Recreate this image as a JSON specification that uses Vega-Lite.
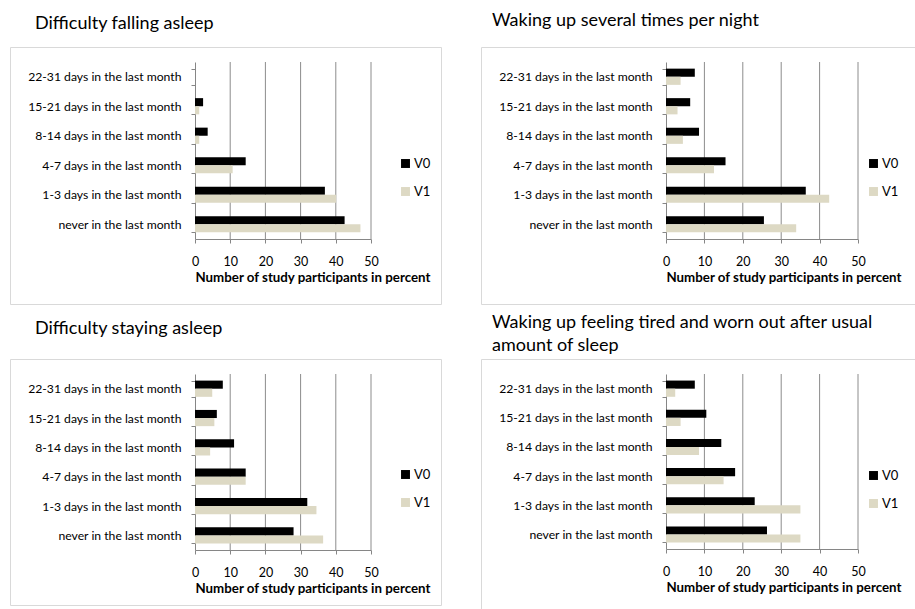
{
  "$schema": "https://vega.github.io/schema/vega-lite/v6.json",
  "background": "white",
  "padding": {"left": 9, "top": 11, "right": 0, "bottom": 0},
  "datasets": {
    "sleep": [
      {"panel": "falling", "category": "22-31 days in the last month", "series": "V0", "value": 0},
      {"panel": "falling", "category": "22-31 days in the last month", "series": "V1", "value": 0},
      {"panel": "falling", "category": "15-21 days in the last month", "series": "V0", "value": 2.3},
      {"panel": "falling", "category": "15-21 days in the last month", "series": "V1", "value": 1.2},
      {"panel": "falling", "category": "8-14 days in the last month", "series": "V0", "value": 3.6},
      {"panel": "falling", "category": "8-14 days in the last month", "series": "V1", "value": 1.2},
      {"panel": "falling", "category": "4-7 days in the last month", "series": "V0", "value": 14.4},
      {"panel": "falling", "category": "4-7 days in the last month", "series": "V1", "value": 10.7},
      {"panel": "falling", "category": "1-3 days in the last month", "series": "V0", "value": 36.9},
      {"panel": "falling", "category": "1-3 days in the last month", "series": "V1", "value": 40.1},
      {"panel": "falling", "category": "never in the last month", "series": "V0", "value": 42.5},
      {"panel": "falling", "category": "never in the last month", "series": "V1", "value": 47.0},

      {"panel": "waking", "category": "22-31 days in the last month", "series": "V0", "value": 7.5},
      {"panel": "waking", "category": "22-31 days in the last month", "series": "V1", "value": 3.8},
      {"panel": "waking", "category": "15-21 days in the last month", "series": "V0", "value": 6.3},
      {"panel": "waking", "category": "15-21 days in the last month", "series": "V1", "value": 3.0},
      {"panel": "waking", "category": "8-14 days in the last month", "series": "V0", "value": 8.6},
      {"panel": "waking", "category": "8-14 days in the last month", "series": "V1", "value": 4.4},
      {"panel": "waking", "category": "4-7 days in the last month", "series": "V0", "value": 15.5},
      {"panel": "waking", "category": "4-7 days in the last month", "series": "V1", "value": 12.5},
      {"panel": "waking", "category": "1-3 days in the last month", "series": "V0", "value": 36.4},
      {"panel": "waking", "category": "1-3 days in the last month", "series": "V1", "value": 42.5},
      {"panel": "waking", "category": "never in the last month", "series": "V0", "value": 25.5},
      {"panel": "waking", "category": "never in the last month", "series": "V1", "value": 33.9},

      {"panel": "staying", "category": "22-31 days in the last month", "series": "V0", "value": 7.9},
      {"panel": "staying", "category": "22-31 days in the last month", "series": "V1", "value": 4.9},
      {"panel": "staying", "category": "15-21 days in the last month", "series": "V0", "value": 6.2},
      {"panel": "staying", "category": "15-21 days in the last month", "series": "V1", "value": 5.5},
      {"panel": "staying", "category": "8-14 days in the last month", "series": "V0", "value": 11.1},
      {"panel": "staying", "category": "8-14 days in the last month", "series": "V1", "value": 4.3},
      {"panel": "staying", "category": "4-7 days in the last month", "series": "V0", "value": 14.4},
      {"panel": "staying", "category": "4-7 days in the last month", "series": "V1", "value": 14.4},
      {"panel": "staying", "category": "1-3 days in the last month", "series": "V0", "value": 31.9},
      {"panel": "staying", "category": "1-3 days in the last month", "series": "V1", "value": 34.5},
      {"panel": "staying", "category": "never in the last month", "series": "V0", "value": 28.0},
      {"panel": "staying", "category": "never in the last month", "series": "V1", "value": 36.4},

      {"panel": "tired", "category": "22-31 days in the last month", "series": "V0", "value": 7.5},
      {"panel": "tired", "category": "22-31 days in the last month", "series": "V1", "value": 2.4},
      {"panel": "tired", "category": "15-21 days in the last month", "series": "V0", "value": 10.5},
      {"panel": "tired", "category": "15-21 days in the last month", "series": "V1", "value": 3.8},
      {"panel": "tired", "category": "8-14 days in the last month", "series": "V0", "value": 14.4},
      {"panel": "tired", "category": "8-14 days in the last month", "series": "V1", "value": 8.6},
      {"panel": "tired", "category": "4-7 days in the last month", "series": "V0", "value": 18.0},
      {"panel": "tired", "category": "4-7 days in the last month", "series": "V1", "value": 15.0},
      {"panel": "tired", "category": "1-3 days in the last month", "series": "V0", "value": 23.1},
      {"panel": "tired", "category": "1-3 days in the last month", "series": "V1", "value": 35.0},
      {"panel": "tired", "category": "never in the last month", "series": "V0", "value": 26.3},
      {"panel": "tired", "category": "never in the last month", "series": "V1", "value": 35.0}
    ],
    "gridlines": [{"tick": 10}, {"tick": 20}, {"tick": 30}, {"tick": 40}, {"tick": 50}]
  },
  "columns": 2,
  "bounds": "flush",
  "spacing": {"row": 55, "column": 40},
  "resolve": {"legend": {"color": "independent"}},
  "concat": [
    {
      "width": 431,
      "height": 257,
      "title": {"text": "Difficulty falling asleep", "offset": 8, "dx": 25},
      "layer": [
        {
          "data": {"name": "gridlines"},
          "mark": {"type": "rule", "color": "#8c8c8c", "strokeWidth": 1},
          "encoding": {
            "x": {"field": "tick", "type": "quantitative", "axis": {"title": "Number of study participants in percent", "values": [0, 10, 20, 30, 40, 50], "offset": -65}},
            "y": {"datum": 0, "type": "quantitative", "scale": {"domain": [0, 1], "range": [15, 192]}, "axis": null},
            "y2": {"datum": 1}
          }
        },
        {
          "data": {"name": "sleep"},
          "transform": [{"filter": "datum.panel === 'falling'"}],
          "mark": {"type": "bar"},
          "encoding": {
            "y": {
              "field": "category", "type": "nominal",
              "sort": ["22-31 days in the last month", "15-21 days in the last month", "8-14 days in the last month", "4-7 days in the last month", "1-3 days in the last month", "never in the last month"],
              "scale": {"range": [15, 192], "paddingInner": 0.45, "paddingOuter": 0.225},
              "axis": {"title": null, "offset": -185, "tickBand": "extent"}
            },
            "yOffset": {"field": "series", "type": "nominal", "sort": ["V0", "V1"], "scale": {"paddingInner": 0, "paddingOuter": 0}},
            "x": {
              "field": "value", "type": "quantitative",
              "scale": {"domain": [0, 50], "range": [185, 361], "nice": false},
              "axis": {"title": "Number of study participants in percent", "values": [0, 10, 20, 30, 40, 50], "offset": -65}
            },
            "color": {
              "field": "series", "type": "nominal",
              "scale": {"domain": ["V0", "V1"], "range": ["#000000", "#ddd9c4"]},
              "legend": {"title": null, "orient": "none", "legendX": 389, "legendY": 110}
            }
          }
        }
      ],
      "resolve": {"scale": {"y": "independent"}}
    },
    {
      "width": 435,
      "height": 257,
      "title": {"text": "Waking up several times per night", "offset": 11, "dx": 11},
      "layer": [
        {
          "data": {"name": "gridlines"},
          "mark": {"type": "rule", "color": "#8c8c8c", "strokeWidth": 1},
          "encoding": {
            "x": {"field": "tick", "type": "quantitative", "axis": {"title": "Number of study participants in percent", "values": [0, 10, 20, 30, 40, 50], "offset": -65}},
            "y": {"datum": 0, "type": "quantitative", "scale": {"domain": [0, 1], "range": [15, 192]}, "axis": null},
            "y2": {"datum": 1}
          }
        },
        {
          "data": {"name": "sleep"},
          "transform": [{"filter": "datum.panel === 'waking'"}],
          "mark": {"type": "bar"},
          "encoding": {
            "y": {
              "field": "category", "type": "nominal",
              "sort": ["22-31 days in the last month", "15-21 days in the last month", "8-14 days in the last month", "4-7 days in the last month", "1-3 days in the last month", "never in the last month"],
              "scale": {"range": [15, 192], "paddingInner": 0.45, "paddingOuter": 0.225},
              "axis": {"title": null, "offset": -185, "tickBand": "extent"}
            },
            "yOffset": {"field": "series", "type": "nominal", "sort": ["V0", "V1"], "scale": {"paddingInner": 0, "paddingOuter": 0}},
            "x": {
              "field": "value", "type": "quantitative",
              "scale": {"domain": [0, 50], "range": [185, 377], "nice": false},
              "axis": {"title": "Number of study participants in percent", "values": [0, 10, 20, 30, 40, 50], "offset": -65}
            },
            "color": {
              "field": "series", "type": "nominal",
              "scale": {"domain": ["V0", "V1"], "range": ["#000000", "#ddd9c4"]},
              "legend": {"title": null, "orient": "none", "legendX": 386, "legendY": 110}
            }
          }
        }
      ],
      "resolve": {"scale": {"y": "independent"}}
    },
    {
      "width": 431,
      "height": 246,
      "title": {"text": "Difficulty staying asleep", "offset": 15, "dx": 25},
      "layer": [
        {
          "data": {"name": "gridlines"},
          "mark": {"type": "rule", "color": "#8c8c8c", "strokeWidth": 1},
          "encoding": {
            "x": {"field": "tick", "type": "quantitative", "axis": {"title": "Number of study participants in percent", "values": [0, 10, 20, 30, 40, 50], "offset": -55}},
            "y": {"datum": 0, "type": "quantitative", "scale": {"domain": [0, 1], "range": [15, 191]}, "axis": null},
            "y2": {"datum": 1}
          }
        },
        {
          "data": {"name": "sleep"},
          "transform": [{"filter": "datum.panel === 'staying'"}],
          "mark": {"type": "bar"},
          "encoding": {
            "y": {
              "field": "category", "type": "nominal",
              "sort": ["22-31 days in the last month", "15-21 days in the last month", "8-14 days in the last month", "4-7 days in the last month", "1-3 days in the last month", "never in the last month"],
              "scale": {"range": [15, 191], "paddingInner": 0.45, "paddingOuter": 0.225},
              "axis": {"title": null, "offset": -185, "tickBand": "extent"}
            },
            "yOffset": {"field": "series", "type": "nominal", "sort": ["V0", "V1"], "scale": {"paddingInner": 0, "paddingOuter": 0}},
            "x": {
              "field": "value", "type": "quantitative",
              "scale": {"domain": [0, 50], "range": [185, 361], "nice": false},
              "axis": {"title": "Number of study participants in percent", "values": [0, 10, 20, 30, 40, 50], "offset": -55}
            },
            "color": {
              "field": "series", "type": "nominal",
              "scale": {"domain": ["V0", "V1"], "range": ["#000000", "#ddd9c4"]},
              "legend": {"title": null, "orient": "none", "legendX": 389, "legendY": 109}
            }
          }
        }
      ],
      "resolve": {"scale": {"y": "independent"}}
    },
    {
      "width": 435,
      "height": 252,
      "title": {"text": ["Waking up feeling tired and worn out after usual", "amount of sleep"], "offset": -2, "dx": 11, "lineHeight": 23},
      "layer": [
        {
          "data": {"name": "gridlines"},
          "mark": {"type": "rule", "color": "#8c8c8c", "strokeWidth": 1},
          "encoding": {
            "x": {"field": "tick", "type": "quantitative", "axis": {"title": "Number of study participants in percent", "values": [0, 10, 20, 30, 40, 50], "offset": -62}},
            "y": {"datum": 0, "type": "quantitative", "scale": {"domain": [0, 1], "range": [15, 190]}, "axis": null},
            "y2": {"datum": 1}
          }
        },
        {
          "data": {"name": "sleep"},
          "transform": [{"filter": "datum.panel === 'tired'"}],
          "mark": {"type": "bar"},
          "encoding": {
            "y": {
              "field": "category", "type": "nominal",
              "sort": ["22-31 days in the last month", "15-21 days in the last month", "8-14 days in the last month", "4-7 days in the last month", "1-3 days in the last month", "never in the last month"],
              "scale": {"range": [15, 190], "paddingInner": 0.45, "paddingOuter": 0.225},
              "axis": {"title": null, "offset": -185, "tickBand": "extent"}
            },
            "yOffset": {"field": "series", "type": "nominal", "sort": ["V0", "V1"], "scale": {"paddingInner": 0, "paddingOuter": 0}},
            "x": {
              "field": "value", "type": "quantitative",
              "scale": {"domain": [0, 50], "range": [185, 377], "nice": false},
              "axis": {"title": "Number of study participants in percent", "values": [0, 10, 20, 30, 40, 50], "offset": -62}
            },
            "color": {
              "field": "series", "type": "nominal",
              "scale": {"domain": ["V0", "V1"], "range": ["#000000", "#ddd9c4"]},
              "legend": {"title": null, "orient": "none", "legendX": 386, "legendY": 110}
            }
          }
        }
      ],
      "resolve": {"scale": {"y": "independent"}}
    }
  ],
  "config": {
    "font": "Lato",
    "view": {"stroke": "#d9d9d9", "strokeWidth": 1},
    "axis": {
      "domainColor": "#868686",
      "tickColor": "#868686",
      "tickSize": 4,
      "grid": false,
      "labelFont": "Lato",
      "labelFontSize": 12,
      "labelColor": "#000000",
      "titleFont": "Lato",
      "titleFontSize": 13.3,
      "titleFontWeight": "bold",
      "titleColor": "#000000"
    },
    "axisY": {"labelPadding": 10, "labelLimit": 300, "labelFontSize": 12.2},
    "axisX": {"labelPadding": 12, "titlePadding": 3, "titleAnchor": "start", "labelFlush": false, "labelFontSize": 12.5},
    "legend": {
      "symbolType": "square",
      "symbolSize": 80,
      "symbolStrokeWidth": 0,
      "labelFont": "Lato",
      "labelFontSize": 13,
      "labelColor": "#000000",
      "labelOffset": 2,
      "rowPadding": 14,
      "padding": 0
    },
    "title": {
      "font": "Lato",
      "fontSize": 18,
      "fontWeight": "normal",
      "anchor": "start",
      "color": "#000000"
    }
  }
}
